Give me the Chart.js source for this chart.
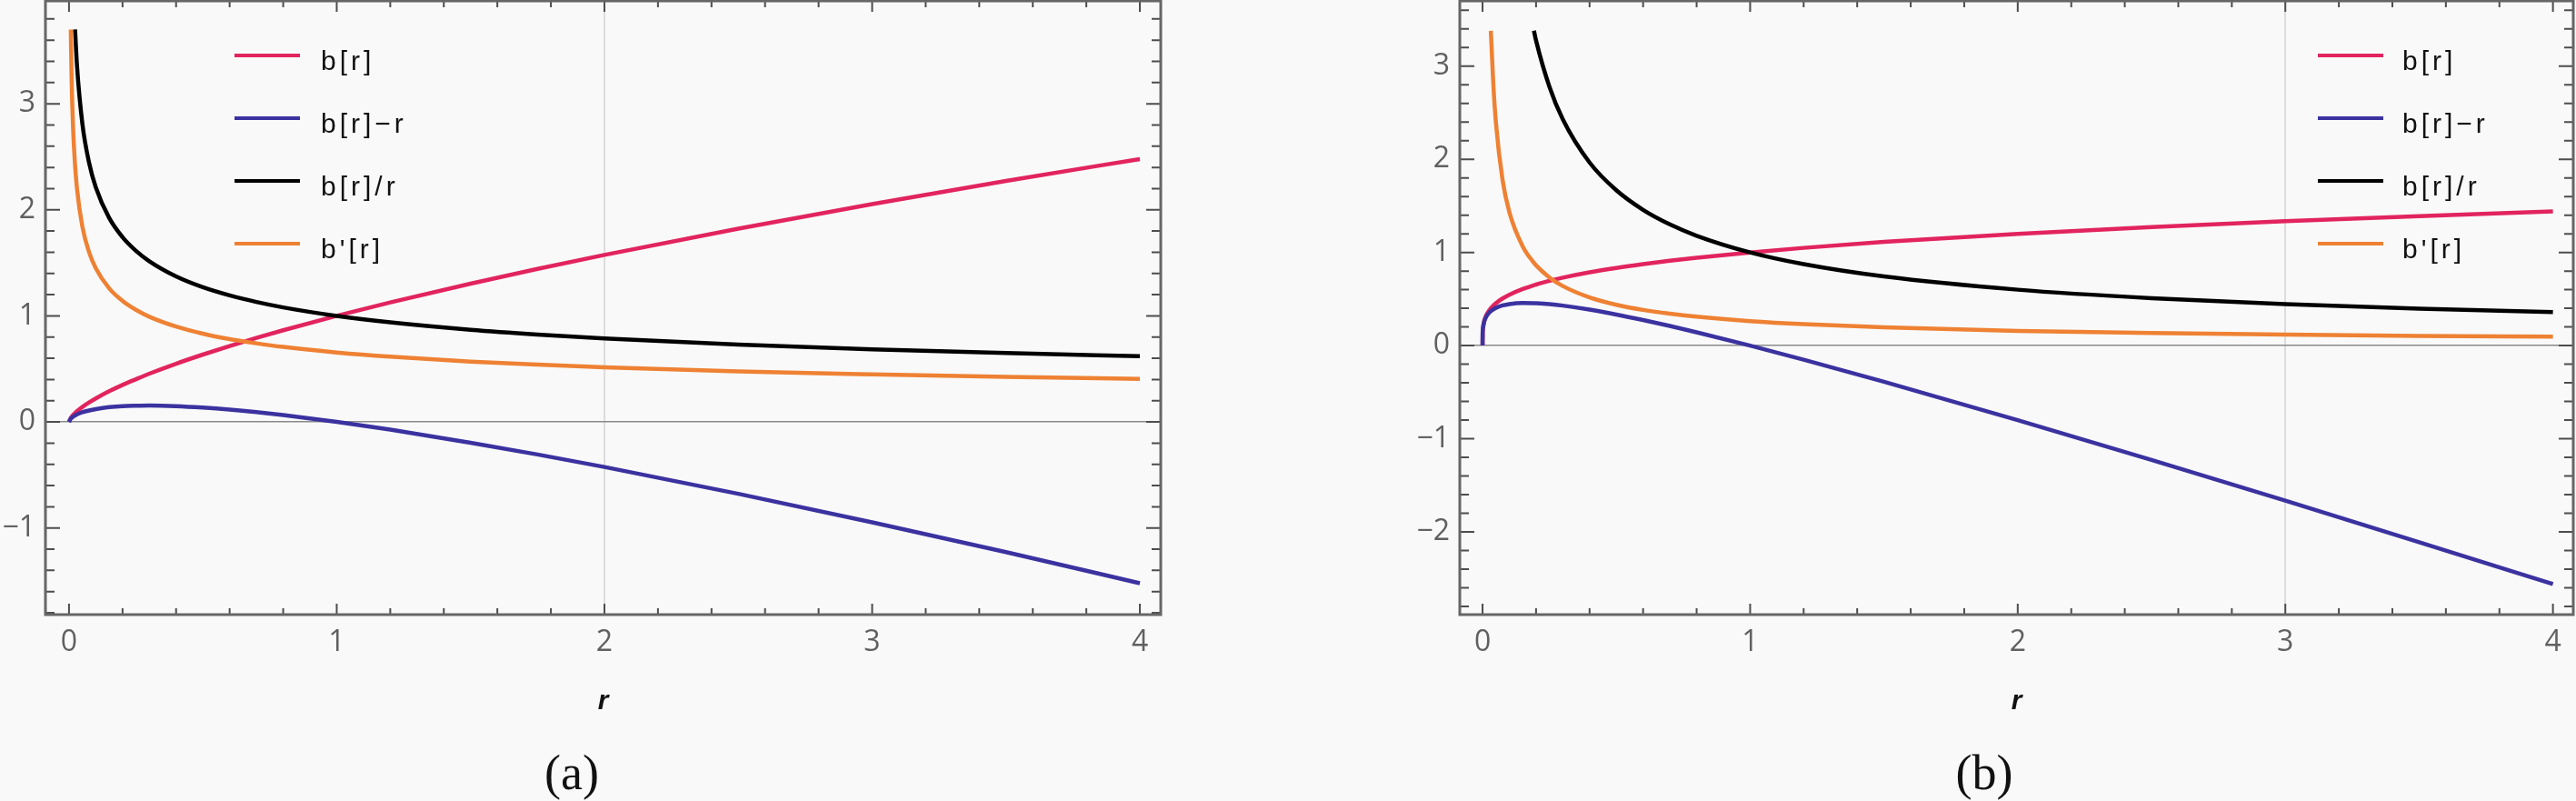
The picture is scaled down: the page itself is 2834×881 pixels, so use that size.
<!DOCTYPE html>
<html>
<head>
<meta charset="utf-8">
<script src="https://cdn.jsdelivr.net/npm/chart.js@4.4.1/dist/chart.umd.min.js"></script>
<style>
  body { margin: 0; background: #f9f9f9; }
  #page { position: relative; width: 2834px; height: 881px; overflow: hidden; background: #f9f9f9; }
  #page canvas { position: absolute; top: 0; }
  .legend-text { position: absolute; font: 30px "Liberation Sans", Arial, sans-serif; letter-spacing: 4px; line-height: 30px; color: #111; white-space: nowrap; }
  .legend-line { position: absolute; height: 4px; width: 72px; }
  .caption { position: absolute; width: 200px; text-align: center; font: 54px "Liberation Serif", serif; line-height: 54px; color: #111; }
</style>
</head>
<body>
<div id="page">
  <canvas id="chartA" width="1417" height="881" style="left:0"></canvas>
  <canvas id="chartB" width="1417" height="881" style="left:1417px"></canvas>
  <div class="caption" style="left:529px; top:823px">(a)</div>
  <div class="caption" style="left:2083px; top:823px">(b)</div>
</div>
<script>
// series names and colours (same for both panels)
const LABELS = ['b[r]', 'b[r]\u2212r', 'b[r]/r', "b'[r]"];
const COLORS = ['#e2245e', '#3b32a0', '#000000', '#ee8133'];
const X_TICKS = [0, 1, 2, 3, 4];

// panel (a)
const rA = [0, 0.0066, 0.01, 0.015, 0.02, 0.0226, 0.03, 0.05, 0.075, 0.1, 0.15, 0.2, 0.25, 0.3,
  0.4, 0.5, 0.6, 0.7, 0.8, 1.0, 1.2, 1.5, 1.75, 2.0, 2.5, 3.0, 3.5, 4.0];
const bA = [0, 0.037, 0.049, 0.064, 0.077, 0.084, 0.101, 0.141, 0.183, 0.221, 0.289, 0.349, 0.403, 0.455,
  0.549, 0.635, 0.716, 0.792, 0.864, 1.0, 1.127, 1.304, 1.443, 1.575, 1.823, 2.054, 2.272, 2.479];
const bMinusRA = [0, 0.031, 0.039, 0.049, 0.057, 0.061, 0.071, 0.091, 0.108, 0.121, 0.139, 0.149, 0.153, 0.155,
  0.149, 0.135, 0.116, 0.092, 0.064, 0, -0.073, -0.196, -0.307, -0.425, -0.678, -0.947, -1.228, -1.521];
const bOverRA = [null, null, null, null, null, 3.70, 3.353, 2.811, 2.444, 2.213, 1.924, 1.742, 1.613, 1.515,
  1.372, 1.270, 1.193, 1.131, 1.080, 1.0, 0.939, 0.869, 0.824, 0.787, 0.729, 0.685, 0.649, 0.620];
const bPrimeA = [null, 3.70, 3.208, 2.789, 2.526, 2.42, 2.196, 1.841, 1.601, 1.450, 1.260, 1.141, 1.057, 0.992,
  0.899, 0.832, 0.781, 0.741, 0.707, 0.655, 0.615, 0.569, 0.540, 0.515, 0.477, 0.449, 0.425, 0.406];
const yTicksA = [-1, 0, 1, 2, 3];

// panel (b)
const rB = [0, 0.0005, 0.002, 0.005, 0.01, 0.02, 0.031, 0.04, 0.05, 0.075, 0.1, 0.15, 0.192, 0.2, 0.25,
  0.3, 0.4, 0.5, 0.6, 0.7, 0.8, 1.0, 1.2, 1.5, 2.0, 2.5, 3.0, 3.5, 4.0];
const bB = [0, 0.136, 0.195, 0.248, 0.298, 0.357, 0.401, 0.429, 0.455, 0.506, 0.546, 0.607, 0.648, 0.655, 0.695,
  0.729, 0.786, 0.833, 0.874, 0.911, 0.943, 1.0, 1.049, 1.113, 1.200, 1.273, 1.335, 1.390, 1.440];
const bMinusRB = [0, 0.135, 0.193, 0.243, 0.288, 0.337, 0.370, 0.389, 0.405, 0.431, 0.446, 0.457, 0.456, 0.455, 0.445,
  0.429, 0.386, 0.333, 0.274, 0.211, 0.143, 0, -0.151, -0.388, -0.800, -1.228, -1.665, -2.110, -2.560];
const bOverRB = [null, null, null, null, null, null, null, null, null, null, null, null, 3.38, 3.274, 2.778,
  2.429, 1.965, 1.667, 1.457, 1.301, 1.179, 1.0, 0.874, 0.742, 0.600, 0.509, 0.445, 0.397, 0.360];
const bPrimeB = [null, null, null, null, null, null, 3.38, 2.82, 2.392, 1.774, 1.435, 1.065, 0.888, 0.861, 0.731,
  0.639, 0.517, 0.438, 0.383, 0.342, 0.310, 0.263, 0.230, 0.195, 0.158, 0.134, 0.117, 0.104, 0.095];
const yTicksB = [-2, -1, 0, 1, 2, 3];

const TICK_FONT = { family: '"Open Sans", "Liberation Sans", sans-serif', size: 32 };

// frame with inward ticks on all four sides (major every 1, minor every 0.2)
const framePlugin = {
  id: 'frame',
  afterDraw(chart) {
    const { ctx, chartArea: a, scales: { x, y } } = chart;
    ctx.save();
    ctx.strokeStyle = '#4d4d4d';
    ctx.lineWidth = 2;
    ctx.beginPath();
    for (let i = Math.ceil(x.min * 5); i <= Math.floor(x.max * 5); i++) {
      const px = x.getPixelForValue(i / 5);
      const len = i % 5 === 0 ? 12 : 7;
      ctx.moveTo(px, a.bottom); ctx.lineTo(px, a.bottom - len);
      ctx.moveTo(px, a.top); ctx.lineTo(px, a.top + len);
    }
    for (let i = Math.ceil(y.min * 5); i <= Math.floor(y.max * 5); i++) {
      const py = y.getPixelForValue(i / 5);
      const len = i % 5 === 0 ? 16 : 10;
      ctx.moveTo(a.left, py); ctx.lineTo(a.left + len, py);
      ctx.moveTo(a.right, py); ctx.lineTo(a.right - len, py);
    }
    ctx.stroke();
    ctx.strokeStyle = '#666666';
    ctx.lineWidth = 3;
    ctx.strokeRect(a.left, a.top, a.right - a.left, a.bottom - a.top);
    ctx.restore();
  },
};

function makePanel(canvasId, r, series, opts) {
  const datasets = series.map((vals, i) => ({
    label: LABELS[i],
    data: r.map((rv, j) => ({ x: rv, y: vals[j] })).filter(p => p.y !== null),
    borderColor: COLORS[i],
    borderWidth: 4.5,
    pointRadius: 0,
    fill: false,
    cubicInterpolationMode: 'monotone',
    order: 4 - i,
  }));

  return new Chart(document.getElementById(canvasId), {
    type: 'line',
    data: { datasets },
    options: {
      responsive: false,
      animation: false,
      events: [],
      layout: { padding: { left: 0, right: opts.padRight, top: 1, bottom: 0 } },
      plugins: { legend: { display: false }, tooltip: { enabled: false } },
      scales: {
        x: {
          type: 'linear',
          min: opts.xMin,
          max: opts.xMax,
          afterBuildTicks: s => { s.ticks = X_TICKS.map(v => ({ value: v })); },
          afterFit: s => { s.height = 205; s.paddingLeft = 0; s.paddingRight = 0; },
          border: { display: false },
          grid: {
            drawTicks: false,
            lineWidth: 2,
            color: c => (c.tick && c.tick.value === opts.gridX ? '#dcdcdc' : 'rgba(0,0,0,0)'),
          },
          ticks: { padding: 12, color: '#606060', font: TICK_FONT },
          title: {
            display: true,
            text: 'r',
            color: '#111',
            font: { family: '"Liberation Sans", Arial, sans-serif', size: 30, style: 'italic', weight: 'bold' },
            padding: { top: 0, bottom: 91 },
          },
        },
        y: {
          type: 'linear',
          min: opts.yMin,
          max: opts.yMax,
          afterBuildTicks: s => { s.ticks = opts.yTicks.map(v => ({ value: v })); },
          afterFit: s => { s.width = opts.yWidth; s.paddingTop = 0; s.paddingBottom = 0; },
          border: { display: false },
          grid: {
            drawTicks: false,
            lineWidth: 1.5,
            color: c => (c.tick && c.tick.value === 0 ? '#8a8a8a' : 'rgba(0,0,0,0)'),
          },
          ticks: {
            padding: 11,
            color: '#606060',
            font: TICK_FONT,
            callback: v => (v < 0 ? '\u2212' + Math.abs(v) : String(v)),
          },
        },
      },
    },
    plugins: [framePlugin],
  });
}

// legend built from the chart's datasets, placed inside the plot like the original
function addLegend(chart, offsetLeft, lineLeft, textLeft) {
  const page = document.getElementById('page');
  chart.data.datasets.forEach((ds, i) => {
    const rowY = 61 + i * 69;
    const line = document.createElement('div');
    line.className = 'legend-line';
    line.style.left = (offsetLeft + lineLeft) + 'px';
    line.style.top = (rowY - 2) + 'px';
    line.style.background = ds.borderColor;
    page.appendChild(line);
    const text = document.createElement('div');
    text.className = 'legend-text';
    text.style.left = (offsetLeft + textLeft) + 'px';
    text.style.top = (rowY - 9) + 'px';
    text.textContent = ds.label;
    page.appendChild(text);
  });
}

const chartA = makePanel('chartA', rA, [bA, bMinusRA, bOverRA, bPrimeA], {
  xMin: -0.088, xMax: 4.078, yMin: -1.817, yMax: 3.97, yTicks: yTicksA,
  yWidth: 50, padRight: 140, gridX: 2,
});
const chartB = makePanel('chartB', rB, [bB, bMinusRB, bOverRB, bPrimeB], {
  xMin: -0.085, xMax: 4.076, yMin: -2.888, yMax: 3.70, yTicks: yTicksB,
  yWidth: 189, padRight: 3, gridX: 3,
});

addLegend(chartA, 0, 258, 353);
addLegend(chartB, 1417, 1133, 1226);
</script>
</body>
</html>
